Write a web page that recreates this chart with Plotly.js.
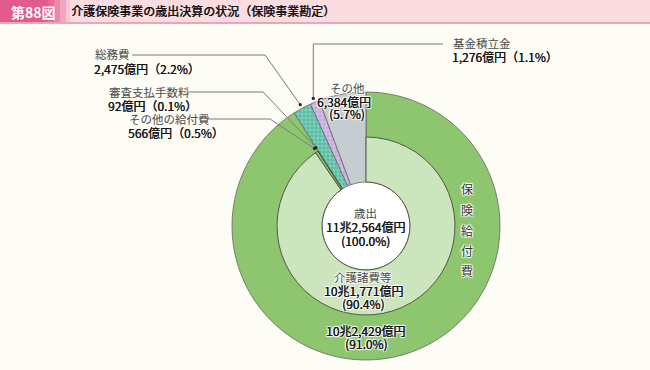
<!DOCTYPE html>
<html>
<head>
<meta charset="utf-8">
<script src="https://cdn.plot.ly/plotly-3.0.1.min.js"></script>
<style>html,body{margin:0;padding:0;background:#fdfcf5;}#chart{width:650px;height:370px;}</style>
</head>
<body>
<div id="chart"></div>
<script>
// ---- data (億円) ----
const outerCategories = ['保険給付費', '総務費', '基金積立金', 'その他'];
const outerValues = [102429, 2475, 1276, 6384];
const innerCategories = ['介護諸費等', 'その他の給付費', '審査支払手数料', '総務費', '基金積立金', 'その他'];
const innerValues = [101771, 566, 92, 2475, 1276, 6384];
const totalLabel = '歳出';
const titleText = '介護保険事業の歳出決算の状況（保険事業勘定）';
const figLabel = '第88図';

// ---- geometry / style ----
const W = 650, H = 370;
const CX = 366, CY = 226, R_OUT = 134, R_MID = 89, R_HOLE = 44;
const FONT = '"Noto Sans CJK JP", "Noto Sans", sans-serif';
const HALO = '1px 1px 1px #fff, -1px -1px 1px #fff, 1px -1px 1px #fff, -1px 1px 1px #fff, 0 0 2px #fff';
const FAKEBOLD = '0.35px 0 0 #151515';

const px = x => x / W;
const py = y => 1 - y / H;

const total = outerValues.reduce((a, b) => a + b, 0);
function fmtOku(v) {
  const cho = Math.floor(v / 10000), rest = v % 10000;
  const r = rest.toLocaleString('en-US');
  return (cho > 0 ? cho + '兆' : '') + r + '億円';
}
function pct(v) { return (v / total * 100).toFixed(1) + '%'; }

function midPoint(values, i, r) {
  let cum = 0;
  for (let k = 0; k < i; k++) cum += values[k];
  const frac = (cum + values[i] / 2) / total;
  const a = frac * 2 * Math.PI;
  return [CX + r * Math.sin(a), CY - r * Math.cos(a)];
}

const GREEN = '#8dc66e', LIGHT = '#cde5bd', TEAL = '#52bba0', LAV = '#c4a8dc', GRAY = '#c6cdd0';

const outer = {
  type: 'pie', sort: false, direction: 'clockwise', rotation: 0,
  labels: outerCategories, values: outerValues,
  hole: R_HOLE / R_OUT,
  domain: { x: [px(CX - R_OUT), px(CX + R_OUT)], y: [py(CY + R_OUT), py(CY - R_OUT)] },
  marker: {
    colors: [GREEN, TEAL, LAV, GRAY],
    line: { color: '#666', width: 0.8 },
    pattern: { shape: ['', '+', '+', ''], fgcolor: '#ffffff', fillmode: 'overlay', size: 4, solidity: 0.3 }
  },
  textinfo: 'none', hoverinfo: 'skip'
};
const T = 'rgba(0,0,0,0)';
const inner = {
  type: 'pie', sort: false, direction: 'clockwise', rotation: 0,
  labels: innerCategories, values: innerValues,
  hole: R_HOLE / R_MID,
  domain: { x: [px(CX - R_MID), px(CX + R_MID)], y: [py(CY + R_MID), py(CY - R_MID)] },
  marker: {
    colors: [LIGHT, GREEN, '#a9d18e', T, T, T],
    line: { color: ['#4d5a45', '#4d5a45', '#4d5a45', T, T, T], width: 1 }
  },
  textinfo: 'none', hoverinfo: 'skip'
};

const annotations = [];
function ann(x, y, text, font, opts) {
  annotations.push(Object.assign({
    xref: 'paper', yref: 'paper', x: px(x), y: py(y), text: text, showarrow: false,
    xanchor: 'center', yanchor: 'middle', align: 'center', borderpad: 0,
    font: Object.assign({ family: FONT, size: 12, color: '#1a1a1a' }, font || {})
  }, opts || {}));
}
const NAME = { size: 11.5, color: '#4a4a4a' };
const NUM = { size: 12, color: '#151515', shadow: FAKEBOLD };
const withHalo = f => Object.assign({}, f, { shadow: (f.shadow ? f.shadow + ', ' : '') + HALO });

// figure label
ann(33, 12, '<b>' + figLabel + '</b>', { size: 14, color: '#ffffff' });
// centre
ann(CX, 213, totalLabel, NAME);
ann(CX, 227, fmtOku(total), NUM);
ann(CX, 240, '(100.0%)', NUM);
// inner ring label
ann(363, 277, innerCategories[0], withHalo(NAME));
ann(363, 290, fmtOku(innerValues[0]), withHalo(NUM));
ann(363, 303, '(' + pct(innerValues[0]) + ')', withHalo(NUM));
// outer ring label
ann(366, 330, fmtOku(outerValues[0]), withHalo(NUM));
ann(366, 343, '(' + pct(outerValues[0]) + ')', withHalo(NUM));
// vertical 保険給付費
const vY = [188, 209, 230, 250, 270];
outerCategories[0].split('').forEach((c, i) => ann(467, vY[i], c, withHalo({ size: 12, color: '#333' })));
// その他 inside slice
ann(347, 88, outerCategories[3], withHalo(NAME));
ann(344, 101, fmtOku(outerValues[3]), withHalo(NUM));
ann(347, 114, '(' + pct(outerValues[3]) + ')', withHalo(NUM));
// outside labels (left aligned)
function sideLabel(x, y1, y2, name, v) {
  ann(x, y1, name, NAME, { xanchor: 'left', align: 'left' });
  ann(x - 1, y2, fmtOku(v) + '（' + pct(v) + '）', NUM, { xanchor: 'left', align: 'left' });
}
sideLabel(94, 54, 68, outerCategories[1], outerValues[1]);
sideLabel(108, 92, 105, innerCategories[2], innerValues[2]);
sideLabel(128, 119, 132, innerCategories[1], innerValues[1]);
sideLabel(452, 43, 57, outerCategories[2], outerValues[2]);

// shapes
const shapes = [];
shapes.push({ type: 'rect', xref: 'paper', yref: 'paper', x0: 0, x1: 1, y0: py(23), y1: 1, fillcolor: '#fbdde1', line: { width: 0 }, layer: 'below' });
shapes.push({ type: 'rect', xref: 'paper', yref: 'paper', x0: 0, x1: 1, y0: py(24), y1: py(22), fillcolor: '#f2a3b9', line: { width: 0 }, layer: 'below' });
const boxSteps = [[0, 48, '#e35a8c'], [48, 54, '#e96c98'], [54, 60, '#ee86a9'], [60, 66, '#f3a6bf'], [66, 70, '#f8c7d3']];
boxSteps.forEach(s => shapes.push({ type: 'rect', xref: 'paper', yref: 'paper', x0: px(s[0]), x1: px(s[1]), y0: py(22), y1: 1, fillcolor: s[2], line: { width: 0 }, layer: 'below' }));
shapes.push({ type: 'circle', xref: 'paper', yref: 'paper', x0: px(CX - R_HOLE), x1: px(CX + R_HOLE), y0: py(CY + R_HOLE), y1: py(CY - R_HOLE), fillcolor: '#ffffff', line: { width: 0 }, layer: 'below' });

function leader(points, end) {
  const d = 'M ' + points.map(p => px(p[0]) + ',' + py(p[1])).join(' L ') + ' L ' + px(end[0]) + ',' + py(end[1]);
  shapes.push({ type: 'path', xref: 'paper', yref: 'paper', path: d, line: { color: '#7a7a7a', width: 1 } });
  shapes.push({ type: 'circle', xref: 'paper', yref: 'paper', x0: px(end[0] - 1.6), x1: px(end[0] + 1.6), y0: py(end[1] + 1.6), y1: py(end[1] - 1.6), fillcolor: '#222', line: { width: 0 } });
}
const eSoumu = midPoint(outerValues, 1, R_OUT + 4);
const eKikin = midPoint(outerValues, 2, R_OUT + 4);
const eShinsa = midPoint(innerValues, 2, R_MID + 4);
const eSonota = midPoint(innerValues, 1, R_MID + 4);
leader([[132, 55], [265, 55]], eSoumu);
leader([[188, 92], [263, 92]], eShinsa);
leader([[207, 119], [270, 119]], eSonota);
leader([[443, 44], [eKikin[0], 44]], eKikin);

const layout = {
  width: W, height: H,
  margin: { l: 0, r: 0, t: 0, b: 0 },
  paper_bgcolor: '#fdfcf5',
  showlegend: false,
  title: { text: titleText, x: px(71), xanchor: 'left', xref: 'paper', y: py(12), yanchor: 'middle', yref: 'paper',
           font: { family: FONT, size: 12, color: '#111', shadow: '0.4px 0 0 #111' } },
  annotations: annotations,
  shapes: shapes
};
Plotly.newPlot('chart', [outer, inner], layout, { displayModeBar: false, staticPlot: true });
</script>
</body>
</html>
